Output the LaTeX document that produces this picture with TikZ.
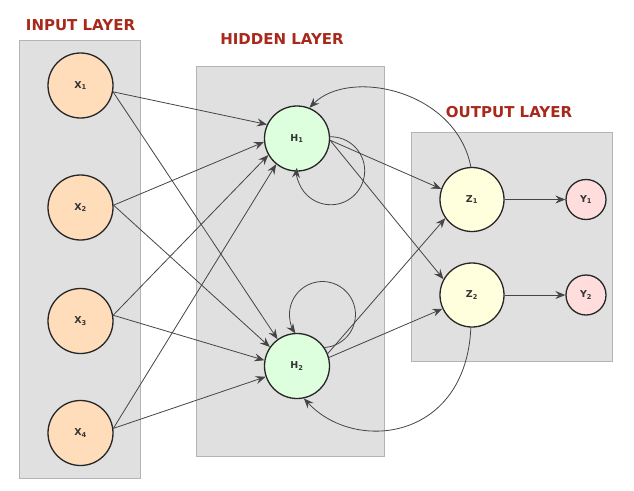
\documentclass[tikz,border=0pt]{standalone}
\usepackage{fontspec}
\setmainfont{DejaVu Sans}
\usetikzlibrary{arrows.meta}
\definecolor{boxfill}{HTML}{E0E0E0}
\definecolor{boxline}{HTML}{B4B4B4}
\definecolor{titlered}{HTML}{A8281C}
\definecolor{infill}{HTML}{FFDDBB}
\definecolor{hidfill}{HTML}{DDFFDD}
\definecolor{outfill}{HTML}{FFFFDD}
\definecolor{yfill}{HTML}{FFDDDD}
\definecolor{edgecol}{HTML}{454545}
\tikzset{
  layerbox/.style={draw=boxline, fill=boxfill, line width=1pt},
  layertitle/.style={text=titlered, font=\fontsize{15}{15}\selectfont\bfseries, inner sep=0pt},
  neuron/.style={circle, draw=black!85, line width=1.3pt, inner sep=0pt, minimum size=65pt, font=\fontsize{9.5}{10}\selectfont\bfseries, text=black!80},
  innode/.style={neuron, fill=infill},
  hidnode/.style={neuron, fill=hidfill},
  outnode/.style={neuron, fill=outfill, minimum size=64pt},
  ynode/.style={neuron, fill=yfill, minimum size=40pt},
  conn/.style={draw=edgecol, line width=0.8pt, -{Stealth[length=10pt,width=8pt,inset=3.5pt]}},
}
\begin{document}
\begin{tikzpicture}[x=1pt,y=-1pt]
\useasboundingbox (0,0) rectangle (634,490);
\fill[white] (0,0) rectangle (634,490);
% boxes
\draw[layerbox] (19,40) rectangle (140,478);
\draw[layerbox] (196,66) rectangle (384,456);
\draw[layerbox] (411,132) rectangle (612,361);
% titles
\node[layertitle] (tin) at (80.5,25) {INPUT LAYER};
\node[layertitle] (thid) at (282,39) {HIDDEN LAYER};
\node[layertitle] (tout) at (509,112.5) {OUTPUT LAYER};
% nodes
\node[innode] (X1) at (80.5,85.5) {X\textsubscript{1}};
\node[innode] (X2) at (80.5,207.5) {X\textsubscript{2}};
\node[innode] (X3) at (80.5,321) {X\textsubscript{3}};
\node[innode] (X4) at (80.5,433) {X\textsubscript{4}};
\node[hidnode] (H1) at (297,138.5) {H\textsubscript{1}};
\node[hidnode] (H2) at (297,366) {H\textsubscript{2}};
\node[outnode] (Z1) at (472,199.5) {Z\textsubscript{1}};
\node[outnode] (Z2) at (472,295) {Z\textsubscript{2}};
\node[ynode] (Y1) at (586,199.5) {Y\textsubscript{1}};
\node[ynode] (Y2) at (586,295) {Y\textsubscript{2}};
% input to hidden
\draw[conn] (X1.-11) -- (H1.155);
\draw[conn] (X1.-11) -- (H2.126);
\draw[conn] (X2.4) -- (H1.186);
\draw[conn] (X2.4) -- (H2.145);
\draw[conn] (X3.10) -- (H1.210);
\draw[conn] (X3.10) -- (H2.170);
\draw[conn] (X4.8) -- (H1.231);
\draw[conn] (X4.8) -- (H2.199);
% hidden to output
\draw[conn] (H1.-3) -- (Z1.161);
\draw[conn] (H1.-3) -- (Z2.151);
\draw[conn] (H2.22) -- (Z1.215);
\draw[conn] (H2.15) -- (Z2.205);
% output to y
\draw[conn] (Z1) -- (Y1);
\draw[conn] (Z2) -- (Y2);
% self loops
\draw[conn] (H1.3) arc[start angle=-91, end angle=185, radius=34];
\draw[conn] (H2.34) arc[start angle=86.5, end angle=-215, radius=33];
% feedback arcs
\draw[conn] (Z1.92) .. controls +(-15,-77) and +(40,-40) .. (H1.68);
\draw[conn] (Z2.-92) .. controls +(-5,113) and +(51,55) .. (H2.-78);
\end{tikzpicture}
\end{document}
